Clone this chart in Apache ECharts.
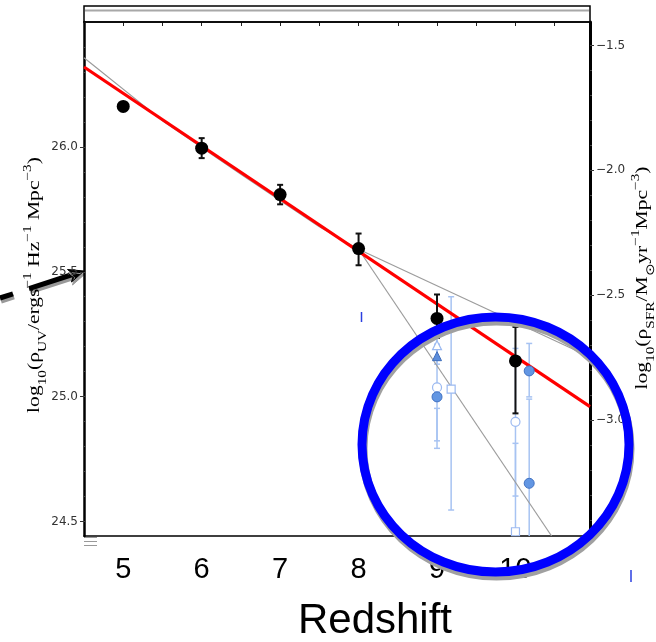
<!DOCTYPE html>
<html><head><meta charset="utf-8">
<script src="https://cdn.jsdelivr.net/npm/echarts@6/dist/echarts.min.js"></script>
<style>html,body{margin:0;padding:0;background:#fff}#c{width:656px;height:642px}</style>
</head><body><div id="c"></div>
<script>
// ---- tick labels ----
const xTickLabels = [5, 6, 7, 8, 9, 10];
const topTicks = [5, 5.5, 6, 6.5, 7, 7.5, 8, 8.5, 9, 9.5, 10, 10.5];
const leftTicks = [24.5, 25.0, 25.5, 26.0];
const rightTicks = [-3.0, -2.5, -2.0, -1.5];

// ---- black data points (x, y, low, high) ----
const blackX = [5, 6, 7, 8, 9, 10];
const blackY = [26.162, 25.995, 25.809, 25.593, 25.313, 25.143];
const blackLo = [26.160, 25.955, 25.770, 25.526, 25.235, 24.933];
const blackHi = [26.164, 26.035, 25.848, 25.653, 25.409, 25.279];

// ---- fitted lines ----
const redFit = [[4.5, 26.32], [10.95, 24.96]];
const grayFitLow = [[4.5, 26.357], [5.5, 26.105], [6.5, 25.89], [7.5, 25.68], [8, 25.59]];
const grayFitShallow = [[8, 25.59], [10.95, 25.159]];
const grayFitSteep = [[8, 25.59], [10.46, 24.442]];

// ---- blue points ----
const blueFilledCircles = [[9, 24.999], [10.175, 25.103], [10.175, 24.653]];
const blueOpenCircles = [[9, 25.037], [10, 24.899]];
const blueFilledTriangles = [[9, 25.162]];
const blueOpenTriangles = [[9, 25.206]];
const blueOpenSquares = [[9.18, 25.03], [10, 24.459]];
// error bars [x, low, high]
const blueErrors = [
  [9, 25.13, 25.24], [9, 24.823, 25.21], [9, 24.793, 24.953],
  [9.18, 24.546, 25.40],
  [10, 24.602, 25.193], [10, 24.40, 24.813],
  [10.175, 24.999, 25.213], [10.175, 24.40, 24.99]
];

// axis ranges
const xMin = 4.5, xMax = 10.95;
const yMin = 24.442, yMax = 26.5;
const sfrOffset = 27.906;

const minorLeft = [];
for (let v = 245; v <= 265; v += 1) minorLeft.push(v / 10);
const minorRightVals = [];
for (let v = -34; v <= -14; v += 1) minorRightVals.push(v / 10);

const blackErr = blackX.map((x, i) => [x, blackLo[i], blackHi[i]]);
const blackPts = blackX.map((x, i) => [x, blackY[i]]);

function errRender(color, width, cap) {
  return function (params, api) {
    const x = api.value(0), lo = api.value(1), hi = api.value(2);
    const p1 = api.coord([x, hi]), p2 = api.coord([x, lo]);
    const style = { stroke: color, lineWidth: width, fill: null };
    return { type: 'group', children: [
      { type: 'line', shape: { x1: p1[0], y1: p1[1], x2: p2[0], y2: p2[1] }, style },
      { type: 'line', shape: { x1: p1[0] - cap, y1: p1[1], x2: p1[0] + cap, y2: p1[1] }, style },
      { type: 'line', shape: { x1: p2[0] - cap, y1: p2[1], x2: p2[0] + cap, y2: p2[1] }, style }
    ]};
  };
}

const chart = echarts.init(document.getElementById('c'), null, { renderer: 'canvas' });
const tickFont = { fontFamily: 'DejaVu Sans', fontSize: 12, color: '#333' };
const fmtMinus = v => String(v.toFixed(1)).replace('-', '\u2212');

const richBase = { fontFamily: 'Liberation Serif', color: '#444' };
const rich = {
  b: Object.assign({ fontSize: 17, lineHeight: 27, verticalAlign: 'middle' }, richBase),
  s: Object.assign({ fontSize: 12, lineHeight: 9, verticalAlign: 'bottom' }, richBase),
  p: Object.assign({ fontSize: 12, lineHeight: 10, verticalAlign: 'top' }, richBase)
};

const option = {
  animation: false,
  backgroundColor: '#fff',
  grid: { left: 84, right: 66, top: 22, bottom: 106, containLabel: false },
  xAxis: [
    { type: 'value', position: 'bottom', min: xMin, max: xMax,
      axisLine: { show: true, onZero: false, lineStyle: { color: '#000', width: 1.5 } },
      axisTick: { show: false },
      axisLabel: { customValues: xTickLabels, fontFamily: 'Liberation Sans', fontSize: 29, color: '#000', margin: 19 },
      splitLine: { show: false } },
    { type: 'value', position: 'top', min: xMin, max: xMax,
      axisLine: { show: true, onZero: false, lineStyle: { color: '#000', width: 1.5 } },
      axisTick: { show: true, inside: true, length: 4, customValues: topTicks, lineStyle: { color: '#222', width: 1 } },
      axisLabel: { show: false },
      splitLine: { show: false } }
  ],
  yAxis: [
    { type: 'value', position: 'left', min: yMin, max: yMax,
      axisLine: { show: true, onZero: false, lineStyle: { color: '#000', width: 2.5 } },
      axisTick: { show: true, inside: false, length: 4, customValues: leftTicks, lineStyle: { color: '#333' } },
      axisLabel: Object.assign({ customValues: leftTicks, margin: 6, formatter: v => v.toFixed(1) }, tickFont),
      splitLine: { show: false } },
    { type: 'value', position: 'left', min: yMin, max: yMax,
      axisLine: { show: false },
      axisTick: { show: true, inside: true, length: 2, customValues: minorLeft, lineStyle: { color: '#444' } },
      axisLabel: { show: false }, splitLine: { show: false } },
    { type: 'value', position: 'right', min: yMin - sfrOffset, max: yMax - sfrOffset,
      axisLine: { show: true, onZero: false, lineStyle: { color: '#000', width: 3 } },
      axisTick: { show: true, inside: false, length: 4, customValues: rightTicks, lineStyle: { color: '#333' } },
      axisLabel: Object.assign({ customValues: rightTicks, margin: 6, formatter: fmtMinus }, tickFont),
      splitLine: { show: false } },
    { type: 'value', position: 'right', min: yMin - sfrOffset, max: yMax - sfrOffset,
      axisLine: { show: false },
      axisTick: { show: true, inside: false, length: 2, customValues: minorRightVals, lineStyle: { color: '#444' } },
      axisLabel: { show: false }, splitLine: { show: false } }
  ],
  series: [
    { type: 'custom', name: 'blueErr', data: blueErrors, clip: true, z: 2,
      encode: { x: 0, y: [1, 2] }, renderItem: errRender('#a7c3f2', 1.5, 3) },
    { type: 'line', data: grayFitLow, showSymbol: false, z: 3, lineStyle: { color: '#9c9c9c', width: 1.2 } },
    { type: 'line', data: grayFitShallow, showSymbol: false, z: 3, lineStyle: { color: '#9c9c9c', width: 1.2 } },
    { type: 'line', data: grayFitSteep, showSymbol: false, z: 3, lineStyle: { color: '#9c9c9c', width: 1.2 } },
    { type: 'line', data: redFit, showSymbol: false, z: 4, lineStyle: { color: '#ff0000', width: 3.2 } },
    { type: 'custom', name: 'blackErr', data: blackErr, clip: true, z: 5,
      encode: { x: 0, y: [1, 2] }, renderItem: errRender('#111', 2, 3) },
    { type: 'scatter', data: blackPts, symbol: 'circle', symbolSize: 13, z: 6,
      itemStyle: { color: '#000', opacity: 1 } },
    { type: 'scatter', data: blueOpenCircles, symbol: 'circle', symbolSize: 9, z: 6,
      itemStyle: { color: '#fff', borderColor: '#9bb9f1', borderWidth: 1.2, opacity: 1 } },
    { type: 'scatter', data: blueOpenSquares, symbol: 'rect', symbolSize: 8, z: 6,
      itemStyle: { color: '#fff', borderColor: '#9bb9f1', borderWidth: 1.2, opacity: 1 } },
    { type: 'scatter', data: blueOpenTriangles, symbol: 'triangle', symbolSize: 9, z: 6,
      itemStyle: { color: '#fff', borderColor: '#9bb9f1', borderWidth: 1.2, opacity: 1 } },
    { type: 'scatter', data: blueFilledTriangles, symbol: 'triangle', symbolSize: 9, z: 7,
      itemStyle: { color: '#5c8ddb', borderColor: '#3f6dbb', borderWidth: 1, opacity: 1 } },
    { type: 'scatter', data: blueFilledCircles, symbol: 'circle', symbolSize: 10, z: 7,
      itemStyle: { color: '#6296e3', borderColor: '#4272c2', borderWidth: 1, opacity: 1 } }
  ],
  graphic: [
    // top double frame
    { type: 'rect', shape: { x: 84, y: 6, width: 506, height: 16 }, z: 10,
      style: { fill: null, stroke: '#000', lineWidth: 1.5 } },
    { type: 'line', shape: { x1: 85, y1: 10.5, x2: 589, y2: 10.5 }, z: 10,
      style: { stroke: '#a8a8a8', lineWidth: 2 } },
    // bottom-left small marks
    { type: 'line', shape: { x1: 84, y1: 537.5, x2: 97, y2: 537.5 }, style: { stroke: '#999', lineWidth: 1 } },
    { type: 'line', shape: { x1: 84, y1: 541.5, x2: 97, y2: 541.5 }, style: { stroke: '#999', lineWidth: 1 } },
    { type: 'line', shape: { x1: 84, y1: 545.5, x2: 97, y2: 545.5 }, style: { stroke: '#999', lineWidth: 1 } },
    // tiny blue marks
    { type: 'line', shape: { x1: 361.5, y1: 312, x2: 361.5, y2: 322 }, style: { stroke: '#2b3fe0', lineWidth: 1.5 } },
    { type: 'line', shape: { x1: 631, y1: 570, x2: 631, y2: 582 }, style: { stroke: '#2b3fe0', lineWidth: 1.5 } },
    // axis titles
    { type: 'text', x: 35, y: 285, rotation: Math.PI / 2, scaleX: 1.27, z: 20,
      style: { text: '{b|log}{s|10}{b|(ρ}{s|UV}{b|/ergs}{p|−1}{b| Hz}{p|−1}{b| Mpc}{p|−3}{b|)}',
        align: 'center', verticalAlign: 'middle', rich: rich } },
    { type: 'text', x: 643, y: 278, rotation: Math.PI / 2, scaleX: 1.27, z: 20,
      style: { text: '{b|log}{s|10}{b|(ρ}{s|SFR}{b|/M}{s|⊙}{b|yr}{p|−1}{b|Mpc}{p|−3}{b|)}',
        align: 'center', verticalAlign: 'middle', rich: rich } },
    { type: 'text', x: 375, y: 621, z: 20,
      style: { text: 'Redshift', fontFamily: 'Liberation Sans', fontSize: 42, fill: '#000',
        align: 'center', verticalAlign: 'middle' } },
    // arrow
    { type: 'group', z: 30, children: [
      { type: 'line', shape: { x1: 0, y1: 298, x2: 13, y2: 293.8 },
        style: { stroke: '#000', lineWidth: 5, shadowColor: '#999', shadowOffsetX: 1, shadowOffsetY: 3 } },
      { type: 'line', shape: { x1: 29, y1: 288.6, x2: 74, y2: 274 },
        style: { stroke: '#000', lineWidth: 5, shadowColor: '#999', shadowOffsetX: 1, shadowOffsetY: 3 } },
      { type: 'polygon', shape: { points: [[84, 271], [71.5, 282], [73.6, 274.5], [67.5, 269.5]] },
        style: { fill: '#000', stroke: '#000', lineWidth: 1, shadowColor: '#999', shadowOffsetX: 1, shadowOffsetY: 3 } }
    ]},
    // blue annotation circle
    { type: 'ellipse', z: 40, shape: { cx: 495.5, cy: 444.5, rx: 133.5, ry: 127.5 },
      style: { fill: null, stroke: '#0000ff', lineWidth: 9, shadowColor: '#a0a0a0', shadowOffsetX: 1, shadowOffsetY: 4 } }
  ]
};
chart.setOption(option);
</script>
</body></html>
